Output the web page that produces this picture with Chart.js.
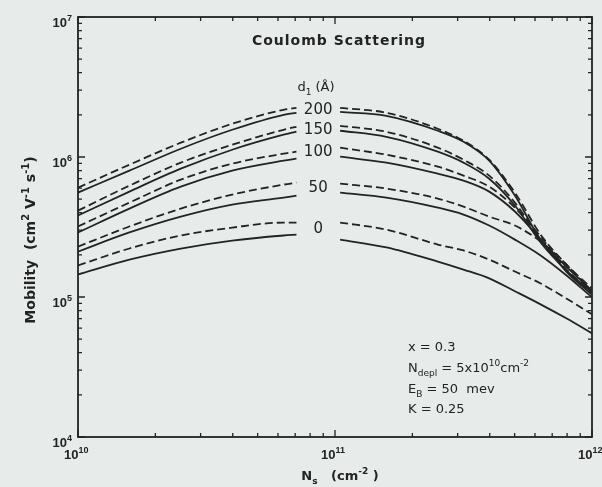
<!DOCTYPE html>
<html><head><meta charset="utf-8">
<script src="https://cdn.jsdelivr.net/npm/chart.js@4/dist/chart.umd.min.js"></script>
<style>html,body{margin:0;padding:0;background:#e7ecea;}#wrap{width:602px;height:487px;position:relative;}</style>
</head><body><div id="wrap"><canvas id="c"></canvas></div>
<script>
// Sheet density N_s (cm^-2): left part (before the d1 labels) and right part
const nsLeft  = [1e10, 1.585e10, 2.512e10, 3.981e10, 6.31e10, 7.08e10];
const nsRight = [1.047e11, 1.585e11, 2.512e11, 3.162e11, 3.981e11, 5.012e11, 6.31e11, 7.943e11, 1e12];
const d1Labels = ['200', '150', '100', '50', '0'];
const labelN = 8.6e10;
const labelMu = [2.17e6, 1.55e6, 1.08e6, 6.04e5, 3.03e5];
const xTickLabels = ['10', '11', '12'];   // exponents of 10
const yTickLabels = ['4', '5', '6', '7'];

// Mobility (cm^2 V^-1 s^-1): dashed and solid curves for each d1
const d200DashL  = [6.04e5, 8.81e5, 1.265e6, 1.727e6, 2.173e6, 2.244e6];
const d200DashR  = [2.244e6, 2.07e6, 1.591e6, 1.307e6, 9.56e5, 5.57e5, 2.79e5, 1.71e5, 1.15e5];
const d200SolidL = [5.57e5, 7.99e5, 1.146e6, 1.565e6, 2.002e6, 2.07e6];
const d200SolidR = [2.103e6, 1.969e6, 1.54e6, 1.285e6, 9.41e5, 5.3e5, 2.57e5, 1.65e5, 1.11e5];
const d150DashL  = [4.14e5, 6.24e5, 9.11e5, 1.224e6, 1.565e6, 1.644e6];
const d150DashR  = [1.671e6, 1.515e6, 1.165e6, 9.56e5, 7.36e5, 4.72e5, 2.57e5, 1.57e5, 1.1e5];
const d150SolidL = [3.82e5, 5.66e5, 8.25e5, 1.127e6, 1.442e6, 1.515e6];
const d150SolidR = [1.54e6, 1.395e6, 1.091e6, 9.11e5, 7.0e5, 4.5e5, 2.45e5, 1.55e5, 1.08e5];
const d100DashL  = [3.19e5, 4.72e5, 6.89e5, 8.96e5, 1.056e6, 1.091e6];
const d100DashR  = [1.165e6, 1.038e6, 8.53e5, 7.36e5, 6.14e5, 4.35e5, 2.7e5, 1.57e5, 1.06e5];
const d100SolidL = [2.89e5, 4.28e5, 6.14e5, 7.99e5, 9.41e5, 9.72e5];
const d100SolidR = [1.005e6, 9.11e5, 7.6e5, 6.78e5, 5.66e5, 4.08e5, 2.57e5, 1.52e5, 1.04e5];
const d50DashL   = [2.29e5, 3.19e5, 4.28e5, 5.39e5, 6.35e5, 6.56e5];
const d50DashR   = [6.45e5, 5.95e5, 5.05e5, 4.42e5, 3.75e5, 3.24e5, 2.49e5, 1.71e5, 1.08e5];
const d50SolidL  = [2.11e5, 2.89e5, 3.75e5, 4.57e5, 5.13e5, 5.3e5];
const d50SolidR  = [5.57e5, 5.13e5, 4.35e5, 3.88e5, 3.24e5, 2.57e5, 1.98e5, 1.43e5, 9.93e4];
const d0DashL    = [1.68e5, 2.22e5, 2.75e5, 3.13e5, 3.4e5, 3.4e5];
const d0DashR    = [3.4e5, 3.03e5, 2.37e5, 2.15e5, 1.85e5, 1.52e5, 1.25e5, 9.77e4, 7.52e4];
const d0SolidL   = [1.45e5, 1.85e5, 2.22e5, 2.53e5, 2.75e5, 2.79e5];
const d0SolidR   = [2.57e5, 2.26e5, 1.79e5, 1.57e5, 1.36e5, 1.1e5, 8.86e4, 7.04e4, 5.5e4];

const INK = '#232323';
function curve(left, right, dashed) {
  const data = nsLeft.map((n, i) => ({x: n, y: left[i]}))
    .concat([{x: labelN, y: null}])
    .concat(nsRight.map((n, i) => ({x: n, y: right[i]})));
  return {data, borderColor: INK, borderWidth: 1.8, borderDash: dashed ? [8, 4] : [],
          pointRadius: 0, fill: false, cubicInterpolationMode: 'monotone', spanGaps: false};
}
const datasets = [
  curve(d200DashL, d200DashR, true), curve(d200SolidL, d200SolidR, false),
  curve(d150DashL, d150DashR, true), curve(d150SolidL, d150SolidR, false),
  curve(d100DashL, d100DashR, true), curve(d100SolidL, d100SolidR, false),
  curve(d50DashL, d50DashR, true),   curve(d50SolidL, d50SolidR, false),
  curve(d0DashL, d0DashR, true),     curve(d0SolidL, d0SolidR, false)
];

const FAM = "'DejaVu Sans', sans-serif";
function rich(ctx, parts, x, y, size, align, weight, fam) {
  fam = fam || FAM;
  const fs = p => p.s ? Math.round(size * 0.68) : size;
  let w = 0;
  parts.forEach(p => { ctx.font = `${weight} ${fs(p)}px ${fam}`; w += ctx.measureText(p.t).width; });
  let cx = align === 'center' ? x - w / 2 : align === 'right' ? x - w : x;
  parts.forEach(p => {
    ctx.font = `${weight} ${fs(p)}px ${fam}`;
    const dy = p.s === 'sup' ? -size * 0.45 : p.s === 'sub' ? size * 0.3 : 0;
    ctx.fillText(p.t, cx, y + dy);
    cx += ctx.measureText(p.t).width;
  });
}

const deco = {
  id: 'deco',
  beforeDraw(chart) {
    const c = chart.ctx; c.save(); c.fillStyle = '#e7ecea';
    c.fillRect(0, 0, chart.width, chart.height); c.restore();
  },
  afterDraw(chart) {
    const {ctx, chartArea: a, scales: {x, y}} = chart;
    ctx.save();
    ctx.strokeStyle = INK; ctx.fillStyle = INK; ctx.lineWidth = 1.8;
    ctx.strokeRect(a.left, a.top, a.right - a.left, a.bottom - a.top);
    ctx.lineWidth = 1.3;
    ctx.beginPath();
    for (let e = 4; e <= 7; e++) for (let m = 1; m <= 9; m++) {
      const v = m * Math.pow(10, e); if (v > 1e7) break;
      const py = y.getPixelForValue(v), len = m === 1 ? 7 : 4;
      ctx.moveTo(a.left, py); ctx.lineTo(a.left + len, py);
      ctx.moveTo(a.right, py); ctx.lineTo(a.right - len, py);
    }
    for (let e = 10; e <= 12; e++) for (let m = 1; m <= 9; m++) {
      const v = m * Math.pow(10, e); if (v > 1e12) break;
      const px = x.getPixelForValue(v), len = m === 1 ? 7 : 4;
      ctx.moveTo(px, a.bottom); ctx.lineTo(px, a.bottom - len);
      ctx.moveTo(px, a.top); ctx.lineTo(px, a.top + len);
    }
    ctx.stroke();
    ctx.textBaseline = 'alphabetic';
    const TF = "'Liberation Sans', sans-serif";
    yTickLabels.forEach(ex => {
      const py = y.getPixelForValue(Math.pow(10, +ex));
      rich(ctx, [{t: '10'}, {t: ex, s: 'sup'}], a.left - 6, py + 10, 13, 'right', 'bold', TF);
    });
    xTickLabels.forEach(ex => {
      const px = x.getPixelForValue(Math.pow(10, +ex));
      rich(ctx, [{t: '10'}, {t: ex, s: 'sup'}], px - 14, a.bottom + 22, 13, 'left', 'bold', TF);
    });
    // curve labels
    ctx.textBaseline = 'middle';
    d1Labels.forEach((t, i) => {
      ctx.font = `15px ${FAM}`; ctx.textAlign = 'center';
      ctx.fillText(t, x.getPixelForValue(labelN), y.getPixelForValue(labelMu[i]));
    });
    ctx.textAlign = 'left'; ctx.textBaseline = 'alphabetic';
    // title and header
    ctx.letterSpacing = '1px';
    rich(ctx, [{t: 'Coulomb Scattering'}], 339, 45, 14, 'center', 'bold');
    ctx.letterSpacing = '0px';
    rich(ctx, [{t: 'd'}, {t: '1', s: 'sub'}, {t: ' (Å)'}], 316, 91, 13, 'center', 'normal');
    // parameters
    rich(ctx, [{t: 'x = 0.3'}], 408, 351, 13, 'left', 'normal');
    rich(ctx, [{t: 'N'}, {t: 'depl', s: 'sub'}, {t: ' = 5x10'}, {t: '10', s: 'sup'}, {t: 'cm'}, {t: '-2', s: 'sup'}], 408, 372, 13, 'left', 'normal');
    rich(ctx, [{t: 'E'}, {t: 'B', s: 'sub'}, {t: ' = 50  mev'}], 408, 393, 13, 'left', 'normal');
    rich(ctx, [{t: 'K = 0.25'}], 408, 413, 13, 'left', 'normal');
    // axis titles
    rich(ctx, [{t: 'N'}, {t: 's', s: 'sub'}, {t: '   (cm'}, {t: '-2', s: 'sup'}, {t: ' )'}], 340, 480, 13, 'center', 'bold');
    ctx.translate(30, 240); ctx.rotate(-Math.PI / 2);
    rich(ctx, [{t: 'Mobility  (cm'}, {t: '2', s: 'sup'}, {t: ' V'}, {t: '-1', s: 'sup'}, {t: ' s'}, {t: '-1', s: 'sup'}, {t: ')'}], 0, 5, 14, 'center', 'bold');
    ctx.restore();
  }
};

new Chart(document.getElementById('c'), {
  type: 'line',
  data: {datasets},
  plugins: [deco],
  options: {
    responsive: true, maintainAspectRatio: false, animation: false,
    layout: {padding: {left: 78, top: 17, right: 10, bottom: 50}},
    plugins: {legend: {display: false}, tooltip: {enabled: false}},
    scales: {
      x: {type: 'logarithmic', min: 1e10, max: 1e12, display: false},
      y: {type: 'logarithmic', min: 1e4, max: 1e7, display: false}
    }
  }
});
</script></body></html>
